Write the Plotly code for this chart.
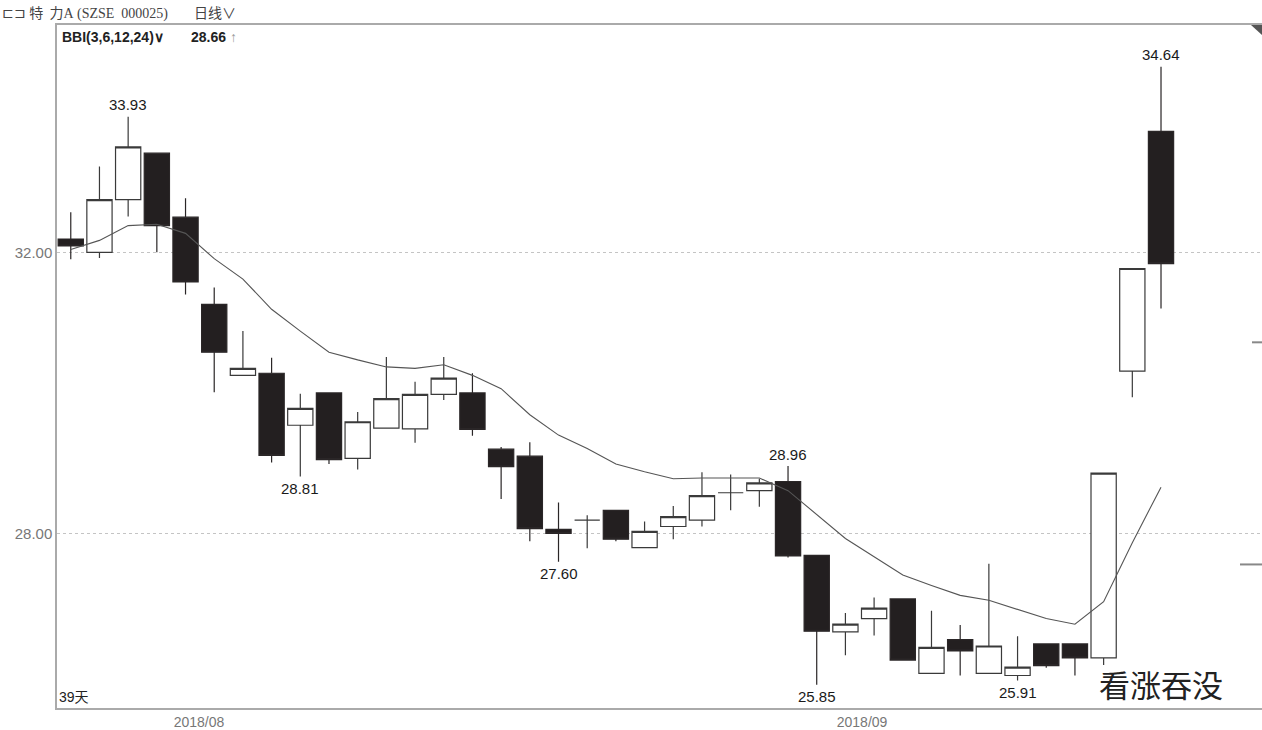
import plotly.graph_objects as go

# ---- data ----
day_index = list(range(1, 40))
opens = [32.19, 32.00, 32.75, 33.41, 32.50, 31.26, 30.25, 30.28, 29.54, 30.00,
         29.07, 29.50, 29.49, 29.98, 30.00, 29.20, 29.10, 28.06, 28.19, 28.33,
         27.80, 28.10, 28.19, 28.58, 28.61, 28.74, 27.69, 26.60, 26.79, 27.07,
         26.01, 26.49, 26.01, 25.98, 26.43, 26.43, 26.23, 30.31, 33.72]
highs = [32.57, 33.22, 33.93, 33.41, 32.77, 31.50, 30.88, 30.50, 29.99, 30.00,
         29.73, 30.51, 30.16, 30.51, 30.28, 29.23, 29.30, 28.44, 28.26, 28.33,
         28.17, 28.39, 28.87, 28.84, 28.78, 28.96, 27.69, 26.87, 27.09, 27.07,
         26.90, 26.70, 27.57, 26.54, 26.43, 26.43, 28.86, 31.77, 34.64]
lows = [31.90, 31.92, 32.51, 32.00, 31.40, 30.01, 30.25, 29.01, 28.81, 28.99,
        28.91, 29.50, 29.29, 29.90, 29.39, 28.49, 27.89, 27.60, 27.79, 27.89,
        27.80, 27.92, 28.10, 28.33, 28.38, 27.66, 25.85, 26.27, 26.55, 26.20,
        26.01, 25.98, 26.01, 25.91, 26.09, 25.98, 26.13, 29.94, 31.20]
closes = [32.09, 32.75, 33.50, 32.38, 31.58, 30.58, 30.35, 29.11, 29.78, 29.05,
          29.59, 29.92, 29.98, 30.21, 29.48, 28.95, 28.07, 28.00, 28.19, 27.92,
          28.03, 28.24, 28.54, 28.58, 28.72, 27.68, 26.61, 26.71, 26.94, 26.20,
          26.38, 26.33, 26.40, 26.10, 26.12, 26.23, 28.86, 31.77, 31.84]
bbi = [32.04, 32.17, 32.38, 32.40, 32.27, 31.91, 31.62, 31.19, 30.88, 30.58,
       30.47, 30.37, 30.35, 30.40, 30.25, 30.06, 29.69, 29.40, 29.21, 28.99,
       28.88, 28.78, 28.79, 28.79, 28.79, 28.61, 28.27, 27.93, 27.67, 27.41,
       27.26, 27.12, 27.05, 26.92, 26.79, 26.71, 27.03, 27.87, 28.66]

# extreme-value labels: (day, 'high'/'low')
extreme_days = [3, 9, 18, 26, 27, 34, 39]
extreme_kind = ["high", "low", "low", "high", "low", "low", "high"]

month_labels = ["2018/08", "2018/09"]
month_pos = [5.47, 28.58]

y_ticks = [28.0, 32.0]
right_marks = [30.72, 27.56]

stock_cn = "特\u00a0\u00a0力"
stock_code = "A\u00a0(SZSE\u00a0\u00a0000025)"
period_text = "日线∨"
indicator_name = "BBI(3,6,12,24)∨"
pattern_text = "看涨吞没"
days_text = "39天"

# ---- figure ----
W, H = 1262, 730
ML, MR, MT, MB = 57, 0, 25, 20
PW, PH = W - ML - MR, H - MT - MB


def px_x(px):
    return (px - ML) / PW


def px_y(py):
    return (H - MB - py) / PH


fig = go.Figure()
fig.add_trace(go.Candlestick(
    x=day_index, open=opens, high=highs, low=lows, close=closes,
    increasing=dict(line=dict(color="#3a3a3a", width=1.2), fillcolor="#ffffff"),
    decreasing=dict(line=dict(color="#2a2627", width=1.2), fillcolor="#231f20"),
    whiskerwidth=0, showlegend=False, hoverinfo="skip",
))
fig.add_trace(go.Scatter(
    x=day_index, y=bbi, mode="lines",
    line=dict(color="#555555", width=1.1), showlegend=False, hoverinfo="skip",
))

label_font = dict(family="Liberation Sans, Arial, sans-serif", size=15, color="#1a1a1a")
for d, k in zip(extreme_days, extreme_kind):
    i = d - 1
    val = highs[i] if k == "high" else lows[i]
    fig.add_annotation(x=d, y=val, xref="x", yref="y", text=f"{val:.2f}",
                       showarrow=False, yshift=12 if k == "high" else -12,
                       font=label_font, xanchor="center", yanchor="middle")

# header texts
fig.add_annotation(x=px_x(0), y=px_y(12), xref="paper", yref="paper",
                   text=("⊏⊐\u00a0" + stock_cn +
                         "<span style='font-family:Liberation Serif, serif'>" + stock_code + "</span>"),
                   showarrow=False, xanchor="left", yanchor="middle",
                   font=dict(family="Noto Sans CJK SC, sans-serif", size=14, color="#444444"))
fig.add_annotation(x=px_x(192), y=px_y(12), xref="paper", yref="paper", text=period_text,
                   showarrow=False, xanchor="left", yanchor="middle",
                   font=dict(family="Noto Sans CJK SC, sans-serif", size=14, color="#444444"))
fig.add_annotation(x=px_x(60), y=px_y(37), xref="paper", yref="paper", text="<b>" + indicator_name + "</b>",
                   showarrow=False, xanchor="left", yanchor="middle",
                   font=dict(family="Liberation Sans, Arial, sans-serif", size=14, color="#222222"))
fig.add_annotation(x=px_x(189), y=px_y(37), xref="paper", yref="paper",
                   text=f"<b>{bbi[-1]:.2f}</b> <span style='color:#999999'>↑</span>",
                   showarrow=False, xanchor="left", yanchor="middle",
                   font=dict(family="Liberation Sans, Arial, sans-serif", size=14, color="#222222"))
fig.add_annotation(x=px_x(57), y=px_y(699), xref="paper", yref="paper", text=days_text,
                   showarrow=False, xanchor="left", yanchor="middle",
                   font=dict(family="Liberation Sans, Noto Sans CJK SC, sans-serif", size=14, color="#222222"))
fig.add_annotation(x=px_x(1161), y=px_y(685), xref="paper", yref="paper", text=pattern_text,
                   showarrow=False, xanchor="center", yanchor="middle",
                   font=dict(family="Noto Sans CJK SC, sans-serif", size=31, color="#222222"))

# right-side small markers and corner triangle
for j, v in enumerate(right_marks):
    x0 = px_x(1252) if j == 0 else px_x(1240)
    fig.add_shape(type="line", xref="paper", yref="y", x0=x0, x1=1.0, y0=v, y1=v,
                  line=dict(color="#888888", width=2))
fig.add_shape(type="path", xref="paper", yref="paper",
              path=f"M {px_x(1251)} 1 L 1 1 L 1 {px_y(35)} Z",
              fillcolor="#555555", line=dict(width=0))

fig.update_layout(
    width=W, height=H, autosize=False,
    margin=dict(l=ML, r=MR, t=MT, b=MB, pad=0),
    paper_bgcolor="#ffffff", plot_bgcolor="#ffffff",
    boxgap=0.12, boxgroupgap=0,
    xaxis=dict(range=[0.52, 42.52], rangeslider=dict(visible=False),
               showgrid=False, zeroline=False,
               tickmode="array", tickvals=month_pos, ticktext=month_labels,
               ticks="", tickfont=dict(family="Liberation Sans, Arial, sans-serif", size=14, color="#777777"),
               showline=True, linecolor="#aaaaaa", linewidth=1.5, mirror=True),
    yaxis=dict(range=[25.518, 35.234], tickmode="array", tickvals=y_ticks,
               tickformat=".2f", ticks="", showgrid=True, gridcolor="#c4c4c4",
               griddash="dot", gridwidth=1, zeroline=False,
               tickfont=dict(family="Liberation Sans, Arial, sans-serif", size=15, color="#777777"),
               showline=True, linecolor="#aaaaaa", linewidth=1.5, mirror=False),
    hovermode=False,
)

fig.write_html("out.html", config={"displayModeBar": False},
               post_script="document.body.style.margin='0';document.body.style.padding='0';")
